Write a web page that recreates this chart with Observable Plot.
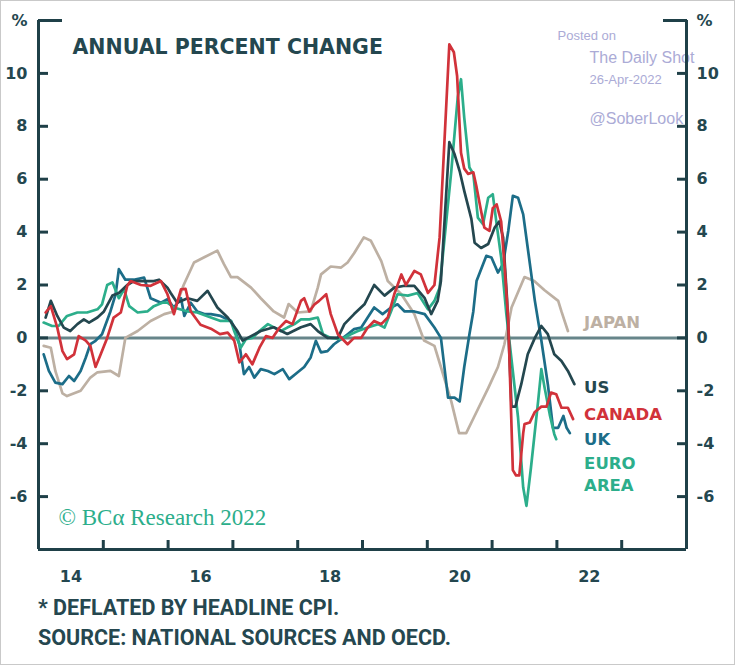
<!DOCTYPE html>
<html>
<head>
<meta charset="utf-8">
<script src="https://cdn.jsdelivr.net/npm/d3@7"></script>
<script src="https://cdn.jsdelivr.net/npm/@observablehq/plot@0.6"></script>
<style>
  html, body { margin: 0; padding: 0; background: #fff; }
  #wrap { position: relative; width: 735px; height: 665px; overflow: hidden; background: #fff; }
  #chart { position: absolute; left: 0; top: 0; }
  #frame { position: absolute; left: 0; top: 0; width: 735px; height: 665px; box-sizing: border-box; border: 1px solid #c9c9c9; pointer-events: none; }
  .note { position: absolute; left: 38px; font-family: Roboto, "Liberation Sans", sans-serif; font-weight: 700; font-size: 21.5px; line-height: 21px; color: #25474f; letter-spacing: 0px; white-space: nowrap; }
</style>
</head>
<body>
<div id="wrap">
  <div id="chart"></div>
  <div class="note" style="top:597px">* DEFLATED BY HEADLINE CPI.</div>
  <div class="note" style="top:627px">SOURCE: NATIONAL SOURCES AND OECD.</div>
  <div id="frame"></div>
</div>
<script>
// ---- data: [decimal year, annual % change] ----
const japan = [[2014.08,-0.3],[2014.19,-0.37],[2014.26,-1.25],[2014.37,-2.1],[2014.44,-2.2],[2014.65,-2.0],[2014.80,-1.5],[2014.91,-1.3],[2015.11,-1.25],[2015.24,-1.44],[2015.34,0],[2015.53,0.26],[2015.73,0.64],[2015.94,0.9],[2016.09,1.0],[2016.24,2.0],[2016.40,2.85],[2016.55,3.04],[2016.76,3.3],[2016.86,2.8],[2016.97,2.3],[2017.07,2.3],[2017.28,1.9],[2017.43,1.5],[2017.63,1.0],[2017.79,0.77],[2017.86,1.28],[2018.00,0.96],[2018.20,1.0],[2018.31,1.9],[2018.36,2.4],[2018.51,2.7],[2018.67,2.66],[2018.77,2.85],[2018.87,3.2],[2019.02,3.8],[2019.13,3.67],[2019.29,2.9],[2019.39,2.15],[2019.60,1.65],[2019.80,0.9],[2019.95,-0.1],[2020.11,-0.3],[2020.21,-1.1],[2020.37,-2.4],[2020.49,-3.6],[2020.60,-3.6],[2020.72,-3.0],[2020.94,-1.9],[2021.09,-1.1],[2021.19,-0.24],[2021.30,1.15],[2021.50,2.3],[2021.65,2.15],[2021.81,1.8],[2022.02,1.4],[2022.07,1.0],[2022.17,0.26]];

const us = [[2014.11,0.77],[2014.19,1.4],[2014.29,0.83],[2014.39,0.39],[2014.49,0.26],[2014.60,0.52],[2014.70,0.7],[2014.78,0.58],[2014.91,0.77],[2015.01,1.0],[2015.14,1.6],[2015.24,1.7],[2015.37,2.0],[2015.47,2.15],[2015.63,2.15],[2015.78,2.15],[2015.86,2.2],[2015.99,1.9],[2016.04,1.7],[2016.14,1.33],[2016.30,1.5],[2016.45,1.4],[2016.61,1.78],[2016.76,1.15],[2016.92,0.77],[2017.07,0.26],[2017.15,-0.1],[2017.23,0],[2017.43,0.26],[2017.63,0.4],[2017.84,0.15],[2018.05,0.4],[2018.20,0.52],[2018.31,0.26],[2018.46,0],[2018.62,0],[2018.72,0.52],[2018.87,0.9],[2019.03,1.27],[2019.18,2.0],[2019.34,1.6],[2019.49,1.9],[2019.65,1.97],[2019.80,1.97],[2019.96,1.5],[2020.06,0.9],[2020.16,1.4],[2020.21,2.15],[2020.34,7.4],[2020.42,6.95],[2020.50,6.3],[2020.57,5.56],[2020.68,4.5],[2020.73,3.6],[2020.83,3.4],[2020.94,3.55],[2021.04,4.17],[2021.11,4.4],[2021.17,3.8],[2021.23,1.5],[2021.30,-2.6],[2021.36,-2.6],[2021.45,-1.75],[2021.55,-0.62],[2021.66,0],[2021.76,0.45],[2021.86,0.14],[2021.96,-0.62],[2022.07,-0.87],[2022.17,-1.25],[2022.27,-1.75]];

const canada = [[2014.11,0.96],[2014.19,1.2],[2014.29,0.39],[2014.37,-0.5],[2014.44,-0.8],[2014.55,-0.62],[2014.62,0.07],[2014.73,-0.1],[2014.80,-0.3],[2014.88,-1.1],[2014.96,-0.62],[2015.06,0],[2015.16,0.77],[2015.27,0.96],[2015.37,1.97],[2015.42,2.15],[2015.58,2.0],[2015.73,1.97],[2015.89,2.15],[2015.99,1.65],[2016.09,0.9],[2016.20,1.84],[2016.27,1.85],[2016.35,1.0],[2016.50,0.5],[2016.66,0.35],[2016.80,0.14],[2016.92,0.2],[2017.02,-0.1],[2017.10,-0.93],[2017.20,-0.62],[2017.30,-1.0],[2017.41,-0.37],[2017.51,0.07],[2017.61,0],[2017.72,0.39],[2017.82,0.64],[2017.92,0.52],[2018.05,1.4],[2018.10,1.5],[2018.18,1.0],[2018.26,1.27],[2018.33,1.4],[2018.44,1.65],[2018.51,0.9],[2018.62,0.14],[2018.77,-0.24],[2018.87,0],[2018.98,0],[2019.08,0.39],[2019.18,0.64],[2019.29,0.52],[2019.39,0.77],[2019.49,1.65],[2019.60,2.4],[2019.67,2.0],[2019.80,2.53],[2019.90,2.4],[2020.01,1.7],[2020.11,2.0],[2020.19,3.8],[2020.34,11.1],[2020.41,10.8],[2020.46,9.9],[2020.52,7.0],[2020.57,6.4],[2020.63,6.2],[2020.71,6.26],[2020.76,5.7],[2020.83,4.8],[2020.88,4.17],[2020.96,4.05],[2021.01,4.9],[2021.07,5.05],[2021.14,4.4],[2021.19,2.8],[2021.25,0.64],[2021.32,-5.0],[2021.37,-5.2],[2021.42,-5.2],[2021.48,-3.6],[2021.50,-3.26],[2021.58,-3.2],[2021.66,-2.8],[2021.76,-2.6],[2021.84,-2.6],[2021.91,-2.07],[2021.99,-2.13],[2022.07,-2.64],[2022.17,-2.64],[2022.25,-3.07]];

const uk = [[2014.08,-0.62],[2014.16,-1.25],[2014.26,-1.69],[2014.37,-1.75],[2014.47,-1.44],[2014.55,-1.63],[2014.65,-1.25],[2014.73,-0.74],[2014.80,-0.24],[2014.88,-0.11],[2014.98,0.14],[2015.11,1.0],[2015.19,1.65],[2015.24,2.6],[2015.29,2.4],[2015.34,2.2],[2015.47,2.2],[2015.63,2.28],[2015.73,1.5],[2015.89,1.33],[2015.99,1.46],[2016.09,1.15],[2016.20,1.5],[2016.25,0.83],[2016.35,1.33],[2016.45,1.0],[2016.56,0.9],[2016.66,0.9],[2016.81,0.83],[2016.97,0.64],[2017.02,0.4],[2017.10,-0.24],[2017.17,-1.37],[2017.25,-1.1],[2017.33,-1.5],[2017.43,-1.18],[2017.54,-1.25],[2017.64,-1.37],[2017.77,-1.18],[2017.87,-1.56],[2018.00,-1.3],[2018.10,-1.1],[2018.20,-0.74],[2018.28,-0.11],[2018.36,-0.55],[2018.46,-0.5],[2018.56,-0.24],[2018.67,-0.05],[2018.77,0.14],[2018.87,0.33],[2018.98,0.39],[2019.08,0.77],[2019.18,1.15],[2019.31,0.9],[2019.44,1.15],[2019.54,1.27],[2019.65,1.0],[2019.80,1.0],[2019.96,0.9],[2020.11,0.39],[2020.21,0],[2020.32,-2.26],[2020.42,-2.26],[2020.50,-2.4],[2020.57,-1.1],[2020.65,0.14],[2020.71,1.0],[2020.76,2.15],[2020.91,3.1],[2020.99,3.04],[2021.09,2.47],[2021.17,2.8],[2021.25,4.05],[2021.32,5.37],[2021.40,5.3],[2021.48,4.67],[2021.55,3.4],[2021.66,1.4],[2021.76,-0.1],[2021.86,-1.75],[2021.94,-3.4],[2022.02,-3.4],[2022.10,-2.95],[2022.15,-3.4],[2022.20,-3.6]];

const euroArea = [[2014.08,0.58],[2014.21,0.45],[2014.31,0.45],[2014.44,0.83],[2014.60,0.96],[2014.75,0.96],[2014.91,1.08],[2014.98,1.27],[2015.06,2.0],[2015.14,2.1],[2015.24,1.5],[2015.32,1.84],[2015.40,1.2],[2015.53,0.96],[2015.68,1.0],[2015.78,1.2],[2015.91,1.33],[2015.99,1.33],[2016.09,1.15],[2016.30,1.0],[2016.45,0.96],[2016.66,0.77],[2016.81,0.64],[2016.97,0.64],[2017.02,0.26],[2017.12,-0.37],[2017.20,-0.05],[2017.30,0],[2017.41,0.26],[2017.54,0.52],[2017.64,0.39],[2017.74,0.26],[2017.84,0.39],[2017.95,0.52],[2018.05,0.7],[2018.18,0.7],[2018.31,0.77],[2018.39,0.14],[2018.51,0],[2018.67,-0.05],[2018.82,0.14],[2018.93,0.26],[2019.08,0.39],[2019.24,0.52],[2019.34,0.39],[2019.44,1.0],[2019.54,1.65],[2019.70,1.6],[2019.85,1.7],[2020.01,1.08],[2020.11,1.4],[2020.19,1.9],[2020.37,6.3],[2020.47,9.1],[2020.52,9.78],[2020.57,8.33],[2020.65,6.44],[2020.71,6.2],[2020.78,4.55],[2020.86,4.3],[2020.94,5.3],[2021.01,5.43],[2021.07,4.3],[2021.14,3.04],[2021.22,0.9],[2021.40,-3.0],[2021.48,-5.66],[2021.53,-6.35],[2021.60,-4.9],[2021.71,-2.4],[2021.76,-1.18],[2021.81,-1.88],[2021.89,-2.9],[2021.96,-3.64],[2021.99,-3.83]];

const yTickValues = [-6, -4, -2, 0, 2, 4, 6, 8, 10];
const yTopTick = [12];
const yTopLabel = "%";
const xYearTicks = [2014, 2015, 2016, 2017, 2018, 2019, 2020, 2021, 2022, 2023, 2024];
const xLabelYears = [2014, 2016, 2018, 2020, 2022];
const xLabels = ["14", "16", "18", "20", "22"];
const seriesNames = ["JAPAN", "US", "CANADA", "UK", "EURO\nAREA"];

// ---- styling ----
const C = {
  japan: "#bdb0a3", us: "#24474f", canada: "#d1323a", uk: "#1c6d88", euro: "#2cae8b",
  axis: "#1f4048", label: "#24474f", zero: "#67858a", water: "#ababd6"
};
const labelRows = [
  {name: seriesNames[0], y: 0.64, color: C.japan},
  {name: seriesNames[1], y: -1.81, color: C.us},
  {name: seriesNames[2], y: -2.84, color: C.canada},
  {name: seriesNames[3], y: -3.78, color: C.uk},
  {name: seriesNames[4], y: -5.1, color: C.euro}
];
const bold = {fontWeight: "bold"};
const lineOpts = (color) => ({x: d => d[0], y: d => d[1], stroke: color, strokeWidth: 2.7, strokeLinejoin: "round", strokeLinecap: "round"});
const axisText = {label: null, color: C.axis, fill: C.label, strokeWidth: 3, fontSize: 16, ...bold};

const chart = Plot.plot({
  width: 735,
  height: 592,
  marginLeft: 38,
  marginRight: 49,
  marginTop: 20,
  marginBottom: 43,
  x: {type: "linear", domain: [2014, 2024], label: null},
  y: {domain: [-8, 12], label: null},
  color: {type: "identity"},
  style: {fontFamily: "'DejaVu Sans', sans-serif", background: "transparent", overflow: "visible"},
  marks: [
    // watermark
    Plot.text(["Posted on"], {frameAnchor: "top-left", dx: 519, dy: 19, lineAnchor: "bottom", textAnchor: "start", fontFamily: "'Liberation Sans', Arial, sans-serif", fontSize: 13, fill: C.water}),
    Plot.text(["The Daily Shot"], {frameAnchor: "top-left", dx: 551, dy: 42, lineAnchor: "bottom", textAnchor: "start", fontFamily: "'Liberation Sans', Arial, sans-serif", fontSize: 16, fill: C.water}),
    Plot.text(["26-Apr-2022"], {frameAnchor: "top-left", dx: 551, dy: 63, lineAnchor: "bottom", textAnchor: "start", fontFamily: "'Liberation Sans', Arial, sans-serif", fontSize: 13, fill: C.water}),
    Plot.text(["@SoberLook"], {frameAnchor: "top-left", dx: 551, dy: 103, lineAnchor: "bottom", textAnchor: "start", fontFamily: "'Liberation Sans', Arial, sans-serif", fontSize: 16, fill: C.water}),
    // title and credit
    Plot.text(["ANNUAL PERCENT CHANGE"], {frameAnchor: "top-left", dx: 34, dy: 33, lineAnchor: "bottom", textAnchor: "start", fontSize: 20.5, fill: C.label, ...bold}),
    Plot.text(["© BCα Research 2022"], {frameAnchor: "top-left", dx: 20, dy: 504, lineAnchor: "bottom", textAnchor: "start", fontFamily: "'Liberation Serif', 'DejaVu Serif', serif", fontSize: 23, fill: C.euro}),
    // zero line
    Plot.ruleY([0], {stroke: C.zero, strokeWidth: 3}),
    // series
    Plot.line(japan, lineOpts(C.japan)),
    Plot.line(uk, lineOpts(C.uk)),
    Plot.line(euroArea, lineOpts(C.euro)),
    Plot.line(us, lineOpts(C.us)),
    Plot.line(canada, lineOpts(C.canada)),
    // frame: left, right, bottom
    Plot.ruleX([2014, 2024], {y1: -8, y2: 12, stroke: C.axis, strokeWidth: 3}),
    Plot.ruleY([-8], {x1: 2014, x2: 2024, stroke: C.axis, strokeWidth: 3}),
    // y ticks + labels, both sides
    Plot.axisY(yTickValues, {anchor: "left", tickSize: -10, tickPadding: 21, tickFormat: d => String(d), ...axisText}),
    Plot.axisY(yTickValues, {anchor: "right", tickSize: -10, tickPadding: 20, tickFormat: d => String(d), ...axisText}),
    Plot.axisY(yTopTick, {anchor: "left", tickSize: -24, tickPadding: 35, tickFormat: () => yTopLabel, ...axisText}),
    Plot.axisY(yTopTick, {anchor: "right", tickSize: -24, tickPadding: 34, tickFormat: () => yTopLabel, ...axisText}),
    // x ticks at year boundaries and labels at mid-year
    Plot.axisX(xYearTicks, {anchor: "bottom", tickSize: -9, tickFormat: () => "", label: null, color: C.axis, strokeWidth: 3}),
    Plot.axisX(xLabelYears.map(y => y + 0.5), {anchor: "bottom", tickSize: 0, tickPadding: 21, tickFormat: d => xLabels[xLabelYears.indexOf(Math.floor(d))], label: null, fill: C.label, fontSize: 16, ...bold}),
    // direct series labels
    Plot.text(labelRows, {x: 2022.42, y: "y", text: "name", fill: "color", textAnchor: "start", fontSize: 16.5, lineHeight: 1.35, ...bold})
  ]
});
document.getElementById("chart").appendChild(chart);
</script>
</body>
</html>
